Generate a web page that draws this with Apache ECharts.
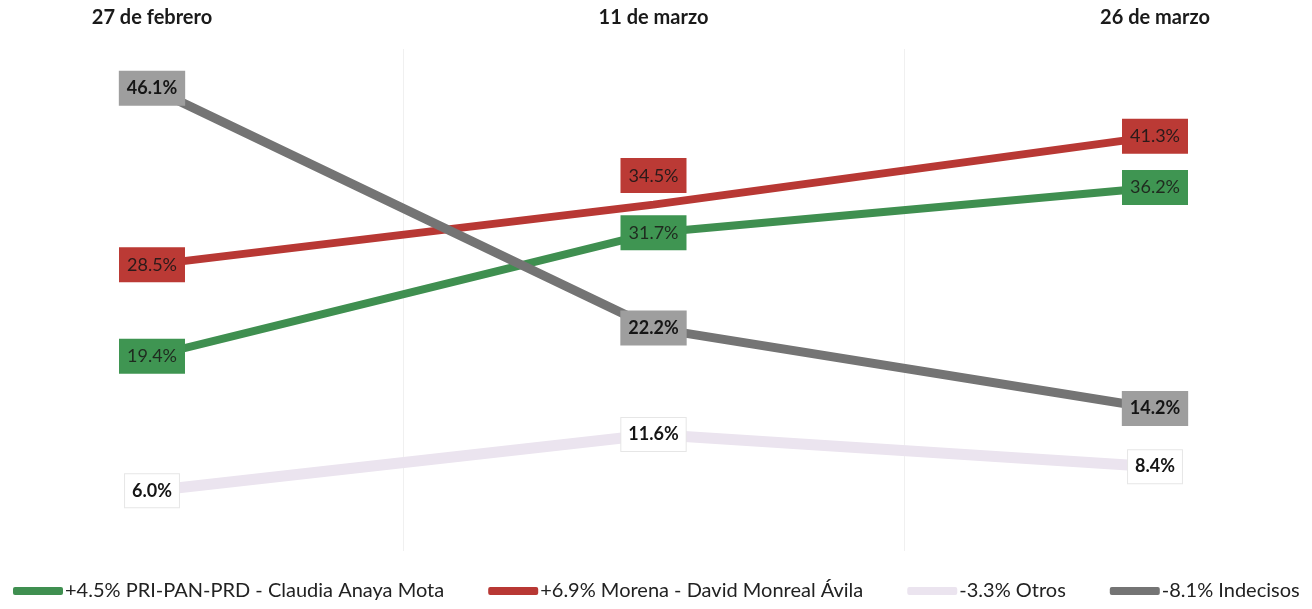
<!DOCTYPE html>
<html>
<head>
<meta charset="utf-8">
<script src="https://cdn.jsdelivr.net/npm/echarts@6/dist/echarts.min.js"></script>
<style>
html,body{margin:0;padding:0;background:#fff;}
#chart{width:1312px;height:609px;}
</style>
</head>
<body>
<div id="chart"></div>
<script>
var categories = ['27 de febrero', '11 de marzo', '26 de marzo'];
var seriesNames = ['+4.5% PRI-PAN-PRD - Claudia Anaya Mota', '+6.9% Morena - David Monreal Ávila', '-3.3% Otros', '-8.1% Indecisos'];
var priValues = [19.4, 31.7, 36.2];
var morenaValues = [28.5, 34.5, 41.3];
var otrosValues = [6.0, 11.6, 8.4];
var indecisosValues = [46.1, 22.2, 14.2];

var chart = echarts.init(document.getElementById('chart'));

function mkData(vals, topIdx) {
  return vals.map(function (v, i) {
    var d = { value: v };
    if (i === topIdx) d.label = { position: 'top', distance: 12 };
    return d;
  });
}

function mkSeries(name, vals, lineColor, boxColor, textColor, bold, width, z, topIdx, borderColor) {
  return {
    name: name,
    type: 'line',
    data: mkData(vals, topIdx),
    z: z,
    symbol: 'circle',
    symbolSize: 1,
    showSymbol: true,
    lineStyle: { color: lineColor, width: width },
    itemStyle: { color: lineColor },
    label: {
      show: true,
      position: 'inside',
      formatter: function (p) { return p.value.toFixed(1) + '%'; },
      backgroundColor: boxColor,
      borderColor: borderColor || boxColor,
      borderWidth: 1,
      padding: [8, 7, 7, 7],
      color: textColor,
      fontFamily: 'Lato',
      fontSize: 18,
      fontWeight: bold ? 'bold' : 'normal'
    },
    emphasis: { disabled: true }
  };
}

chart.setOption({
  animation: false,
  grid: { left: 152, right: 157, top: 49, bottom: 58 },
  legend: {
    bottom: 3,
    left: 8,
    itemWidth: 50,
    itemHeight: 8,
    itemGap: 44,
    icon: 'roundRect',
    textStyle: { fontFamily: 'Lato', fontSize: 20, color: '#222', padding: [0, 0, 0, -3] },
    data: seriesNames
  },
  xAxis: [
    {
      type: 'category',
      data: categories,
      position: 'top',
      boundaryGap: false,
      axisLine: { show: false },
      axisTick: { show: false },
      splitLine: { show: false },
      axisLabel: { margin: 21, fontFamily: 'Lato', fontSize: 20, fontWeight: 'bold', color: '#1a1a1a' }
    },
    {
      type: 'value',
      min: 0, max: 2, interval: 0.5,
      show: true,
      axisLine: { show: false },
      axisTick: { show: false },
      axisLabel: { show: false },
      splitLine: { show: true, lineStyle: { color: ['rgba(0,0,0,0)', '#f0f0f0'], width: 1 } }
    }
  ],
  yAxis: {
    type: 'value',
    min: 0, max: 50,
    show: false,
    splitLine: { show: false }
  },
  series: [
    mkSeries(seriesNames[0], priValues, '#3f8f50', '#3f9552', '#1f2a1f', false, 8, 3, -1),
    mkSeries(seriesNames[1], morenaValues, '#b83834', '#bb3a35', '#2a1a1a', false, 8, 2, 1),
    mkSeries(seriesNames[2], otrosValues, '#ebe4ef', '#ffffff', '#151515', true, 11, 1, -1, '#e6e6e6'),
    mkSeries(seriesNames[3], indecisosValues, '#747474', '#9e9e9e', '#151515', true, 9, 4, -1)
  ]
});
</script>
</body>
</html>
